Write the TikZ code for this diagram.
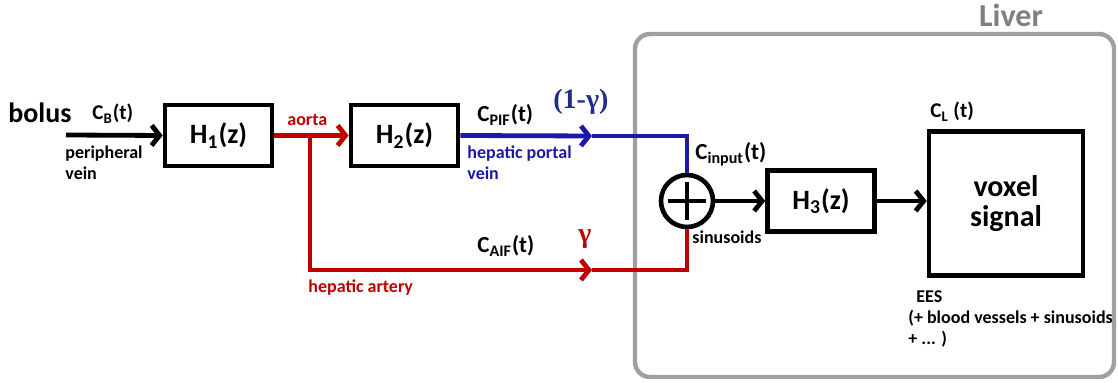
\documentclass[tikz,border=0pt]{standalone}
\usepackage{fontspec}
\setmainfont{Carlito}
\newfontfamily\greekserif{Liberation Serif}
\usetikzlibrary{arrows.meta,calc}
\definecolor{ink}{HTML}{000000}
\definecolor{artery}{HTML}{C00000}
\definecolor{portal}{HTML}{1A1AA6}
\definecolor{navy}{HTML}{1F2E8C}
\definecolor{liverline}{HTML}{A0A0A0}
\definecolor{livertext}{HTML}{808080}

\begin{document}
\begin{tikzpicture}[x=0.5pt,y=-0.5pt,font=\bfseries,
    block/.style={draw=ink,line width=2.3pt,minimum width=53.5pt,
                  minimum height=30.5pt,inner sep=0pt,
                  font=\fontsize{14}{16}\selectfont\bfseries},
    adder/.style={circle,draw=ink,line width=2.3pt,minimum size=26pt,inner sep=0pt},
    flow/.style={line width=2.4pt,-{Straight Barb[length=4pt,width=10pt]}},
    pipe/.style={line width=2.4pt},
    note/.style={inner sep=0pt,align=left,font=\fontsize{9}{10.5}\selectfont\bfseries},
    sig/.style={anchor=base west,inner sep=0pt,font=\fontsize{11.5}{13}\selectfont\bfseries},
    greek/.style={anchor=base west,inner sep=0pt,font=\fontsize{14}{16}\selectfont\greekserif\bfseries}]
  \useasboundingbox (0,0) rectangle (1118,383);
  % liver region
  \draw[liverline,line width=2.2pt,rounded corners=7.5pt] (635,34) rectangle (1114,377);
  \node[text=livertext,font=\fontsize{16}{18}\selectfont\bfseries] (liver) at (1011,15) {Liver};

  % blocks
  \node[block] (h1) at (218.5,135.5) {H\textsubscript{1}(z)};
  \node[block] (h2) at (404.5,135.5) {H\textsubscript{2}(z)};
  \node[adder] (sum) at (687,201) {};
  \draw[line width=2.3pt] ($(sum.center)+(-19,0)$) -- ($(sum.center)+(19,0)$)
                          ($(sum.center)+(0,-19)$) -- ($(sum.center)+(0,19)$);
  \node[block] (h3) at (821,201) {H\textsubscript{3}(z)};
  \node[block,minimum width=77pt,minimum height=72pt,align=center,
        font=\fontsize{15}{15}\selectfont\bfseries] (voxel) at (1006,203.5) {voxel\\signal};

  % connectors
  \coordinate (inlet) at (66,135);
  \coordinate (split) at (310,135);
  \coordinate (pifarr) at (592,136);
  \coordinate (aifarr) at (592,270);
  \draw[flow] (inlet) -- (h1.west);
  \draw[flow,artery] (h1.east) -- (h2.west);
  \draw[flow,artery] (split) |- (aifarr);
  \draw[pipe,artery] (aifarr) -| (sum.south);
  \draw[flow,portal] (h2.east) -- (pifarr);
  \draw[pipe,portal] (pifarr) -| (sum.north);
  \draw[flow] (sum.east) -- (h3.west);
  \draw[flow] (h3.east) -- (h3.east -| voxel.west);

  % labels
  \node[anchor=base west,inner sep=0pt,font=\fontsize{14}{16}\selectfont\bfseries] (bolus) at (8,123) {bolus};
  \node[sig,font=\fontsize{10.5}{12}\selectfont\bfseries] (cb) at (92,120) {C\textsubscript{B}(t)};
  \node[note,anchor=north west] (periph) at (65,145) {peripheral\\vein};
  \node[note,anchor=base west,text=artery] (aorta) at (287,126) {aorta};
  \node[note,anchor=base west,text=artery] (hart) at (308,293) {hepatic artery};
  \node[sig] (cpif) at (477,122) {C\textsubscript{PIF}(t)};
  \node[greek,text=navy] (oneminus) at (553,109) {(1-γ)};
  \node[note,anchor=north west,text=portal] (hpv) at (467,145) {hepatic portal\\vein};
  \node[sig] (caif) at (477,253) {C\textsubscript{AIF}(t)};
  \node[greek,text=artery] (gam) at (578,243) {γ};
  \node[sig] (cin) at (695,160) {C\textsubscript{input}(t)};
  \node[note,anchor=base west] (sinus) at (692,244) {sinusoids};
  \node[sig,font=\fontsize{10.5}{12}\selectfont\bfseries] (cl) at (930,118) {C\textsubscript{L} (t)};
  \node[note,anchor=north west] (ees) at (908,290) {\hspace{4pt}EES\\(+ blood vessels + sinusoids\\+ ... )};
\end{tikzpicture}
\end{document}
